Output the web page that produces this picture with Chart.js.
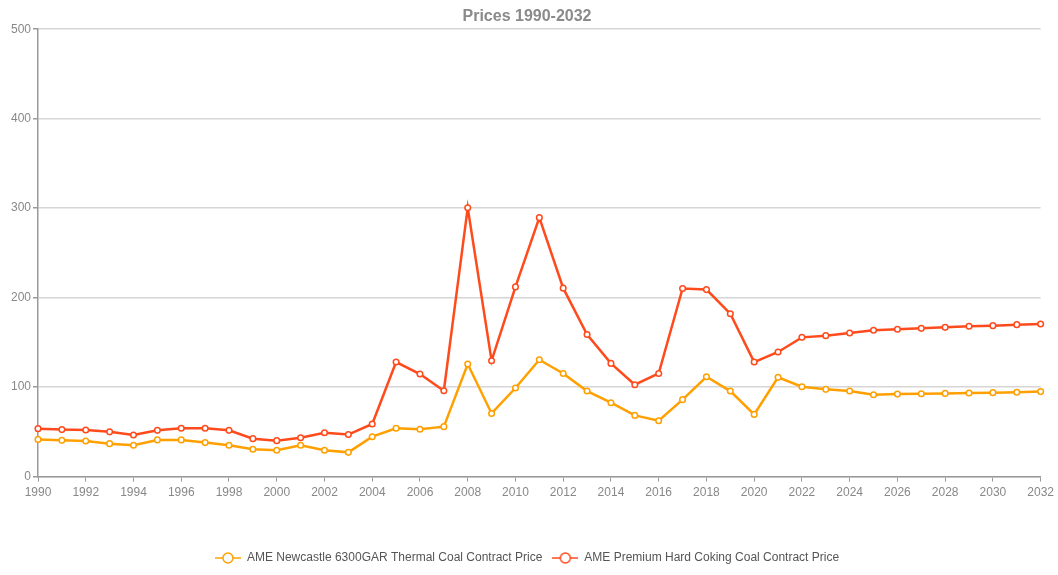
<!DOCTYPE html>
<html>
<head>
<meta charset="utf-8">
<script src="https://cdn.jsdelivr.net/npm/chart.js@4.4.1/dist/chart.umd.min.js"></script>
<style>
  html, body { margin: 0; padding: 0; background: #fff; }
  #wrap { width: 1058px; height: 575px; }
</style>
</head>
<body>
<div id="wrap"><canvas id="priceChart" width="1058" height="575"></canvas></div>
<script>
const YEARS = [
    1990, 1991, 1992, 1993, 1994, 1995, 1996, 1997, 1998, 1999, 2000,
    2001, 2002, 2003, 2004, 2005, 2006, 2007, 2008, 2009, 2010, 2011,
    2012, 2013, 2014, 2015, 2016, 2017, 2018, 2019, 2020, 2021, 2022,
    2023, 2024, 2025, 2026, 2027, 2028, 2029, 2030, 2031, 2032,
];

// Newcastle thermal
const THERMAL = [
    41.6, 40.5, 39.8, 36.8, 35, 41, 41, 38, 35, 30.5, 29.4,
    35, 29.4, 27.1, 44.6, 54, 53, 55.8, 125.8, 70.6, 99, 130.6,
    115.3, 95.6, 82.6, 68.4, 62.5, 86, 111.6, 95.6, 69.5, 110.9, 100.4,
    97.5, 95.6, 91.5, 92.2, 92.6, 93, 93.5, 93.8, 94.2, 95,
];

// premium hard coking
const COKING = [
    53.6, 52.5, 52, 50, 46.5, 51.7, 54, 54, 51.7, 42.4, 40.2,
    43.5, 49, 47, 58.8, 128, 114.6, 96, 300.5, 129.5, 212, 289.4,
    210.6, 158.8, 126.5, 102.7, 115.3, 210.2, 209, 182, 128, 139.3, 155.6,
    157.5, 160.5, 163.5, 164.6, 165.7, 166.8, 168, 168.7, 169.8, 170.5,
];

const SERIES_NAMES = [
    "AME Newcastle 6300GAR Thermal Coal Contract Price",
    "AME Premium Hard Coking Coal Contract Price",
];
const COLORS = ["#ffa000", "#ff4a1c"];

const FONT = "'Liberation Sans', Arial, sans-serif";

// small line+circle icon for legend
function legendIcon(color) {
    const c = document.createElement("canvas");
    c.width = 26;
    c.height = 14;
    const g = c.getContext("2d");
    g.strokeStyle = color;
    g.lineWidth = 1.5;
    g.beginPath();
    g.moveTo(0, 7);
    g.lineTo(26, 7);
    g.stroke();
    g.fillStyle = "#fff";
    g.beginPath();
    g.arc(13, 7, 5, 0, Math.PI * 2);
    g.fill();
    g.stroke();
    return c;
}

function toPoints(values) {
    return YEARS.map((y, i) => ({ x: y, y: values[i] }));
}

document.addEventListener("DOMContentLoaded", function () {
    const ctx = document.getElementById("priceChart").getContext("2d");
    new Chart(ctx, {
        type: "line",
        data: {
            datasets: [THERMAL, COKING].map((vals, i) => ({
                label: SERIES_NAMES[i],
                data: toPoints(vals),
                borderColor: COLORS[i],
                backgroundColor: "#fff",
                borderWidth: 2.5,
                pointRadius: 2.8,
                pointBorderWidth: 1.5,
                pointBackgroundColor: "#fff",
                pointBorderColor: COLORS[i],
                pointStyle: "circle",
                tension: 0,
                fill: false,
                clip: false,
            })),
        },
        options: {
            responsive: false,
            animation: false,
            layout: { padding: { left: 9, right: 13, top: 0, bottom: 1 } },
            plugins: {
                title: {
                    display: true,
                    text: "Prices 1990-2032",
                    color: "#8a8a8a",
                    font: { family: FONT, size: 16, weight: "bold" },
                    padding: { top: 7, bottom: 3 },
                },
                legend: {
                    position: "bottom",
                    labels: {
                        usePointStyle: true,
                        pointStyleWidth: 26,
                        color: "#555",
                        font: { family: FONT, size: 12 },
                        padding: 10,
                        generateLabels: function (chart) {
                            return chart.data.datasets.map((ds, i) => ({
                                text: ds.label,
                                pointStyle: legendIcon(COLORS[i]),
                                fontColor: "#555",
                                datasetIndex: i,
                                hidden: false,
                            }));
                        },
                    },
                },
                tooltip: { enabled: false },
            },
            scales: {
                x: {
                    type: "linear",
                    min: 1990,
                    max: 2032,
                    offset: false,
                    afterFit: (scale) => {
                        scale.height += 38;
                    },
                    ticks: {
                        stepSize: 2,
                        color: "#888",
                        font: { family: FONT, size: 12 },
                        maxRotation: 0,
                        autoSkip: false,
                        padding: 4,
                        callback: (v) => String(v),
                    },
                    grid: {
                        drawOnChartArea: false,
                        drawTicks: true,
                        tickLength: 5,
                        tickColor: "#999",
                    },
                    border: { color: "#999", width: 1.5 },
                },
                y: {
                    min: 0,
                    max: 500,
                    ticks: {
                        stepSize: 100,
                        color: "#888",
                        font: { family: FONT, size: 12 },
                        padding: 2,
                    },
                    grid: {
                        color: "#d6d6d6",
                        lineWidth: 1.5,
                        tickLength: 5,
                        tickColor: "#999",
                    },
                    border: { color: "#999", width: 1.5 },
                },
            },
        },
    });
});
</script>
</body>
</html>
